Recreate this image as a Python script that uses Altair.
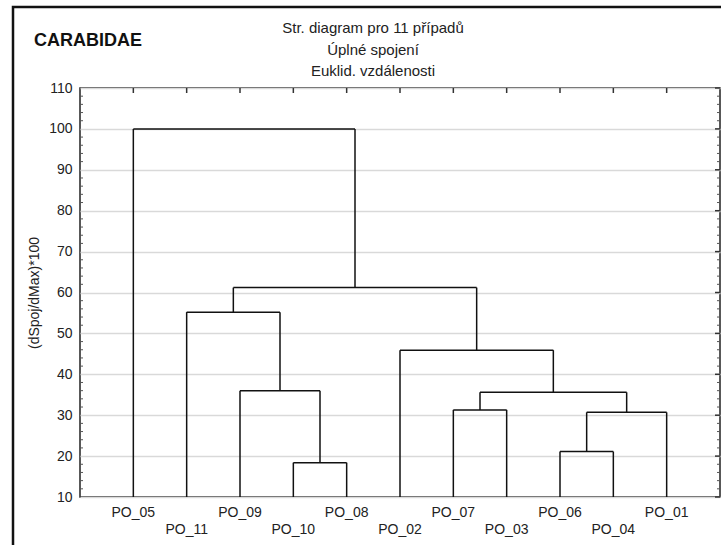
import altair as alt
import pandas as pd

# ---- data ----
leaves = ["PO_05", "PO_11", "PO_09", "PO_10", "PO_08", "PO_02",
          "PO_07", "PO_03", "PO_06", "PO_04", "PO_01"]
merge_left = ["PO_10", "PO_09", "PO_11", "PO_07", "PO_06", "m4", "m3", "PO_02", "m2", "PO_05"]
merge_right = ["PO_08", "m0", "m1", "PO_03", "PO_04", "PO_01", "m5", "m6", "m7", "m8"]
merge_height = [18.4, 36.0, 55.2, 31.3, 21.1, 30.7, 35.6, 45.9, 61.2, 100.0]
y_ticks = [10, 20, 30, 40, 50, 60, 70, 80, 90, 100, 110]
y_minor = [v for v in range(12, 110, 2) if v % 10 != 0]
title_lines = ["Str. diagram pro 11 případů", "Úplné spojení", "Euklid. vzdálenosti"]
panel_label = "CARABIDAE"
y_title = "(dSpoj/dMax)*100"

FONT = "Liberation Sans"
W, H = 640, 409

# ---- build dendrogram segments ----
pos = {name: i + 1 for i, name in enumerate(leaves)}
hgt = {name: 10.0 for name in leaves}
segs = []
for i, (l, r, h) in enumerate(zip(merge_left, merge_right, merge_height)):
    xl, xr = pos[l], pos[r]
    segs.append({"x": xl, "x2": xl, "y": hgt[l], "y2": h})
    segs.append({"x": xr, "x2": xr, "y": hgt[r], "y2": h})
    segs.append({"x": xl, "x2": xr, "y": h, "y2": h})
    pos[f"m{i}"] = (xl + xr) / 2
    hgt[f"m{i}"] = h
seg_df = pd.DataFrame(segs)

leaf_df = pd.DataFrame({"name": leaves, "x": list(range(1, len(leaves) + 1)),
                        "row": [i % 2 for i in range(len(leaves))]})

xscale = alt.Scale(domain=[0, 12], nice=False, zero=False)
yscale = alt.Scale(domain=[10, 110], nice=False, zero=False)
yaxis = alt.Axis(values=y_ticks, grid=True, gridColor="#d9d9d9", gridWidth=1.5,
                 tickSize=0, domain=False, labelPadding=8, labelFontSize=14,
                 labelColor="#222222", labelFont=FONT, title=y_title,
                 titleFontSize=14, titleFont=FONT, titleFontWeight="normal",
                 titleColor="#222222", titlePadding=7)

dendro = alt.Chart(seg_df).mark_rule(color="#111111", strokeWidth=1.5).encode(
    x=alt.X("x:Q", scale=xscale, axis=None),
    x2="x2:Q",
    y=alt.Y("y:Q", scale=yscale, axis=yaxis),
    y2="y2:Q",
)

minor_df = pd.DataFrame({"v": y_minor})
major_df = pd.DataFrame({"v": y_ticks})
tick_left = alt.Chart(minor_df).mark_rule(color="#555555", strokeWidth=1).encode(
    x=alt.value(0), x2=alt.value(3), y=alt.Y("v:Q", scale=yscale, axis=yaxis))
tick_right = alt.Chart(minor_df).mark_rule(color="#555555", strokeWidth=1).encode(
    x=alt.value(W - 3), x2=alt.value(W), y=alt.Y("v:Q", scale=yscale, axis=yaxis))
tick_right_major = alt.Chart(major_df).mark_rule(color="#333333", strokeWidth=1.5).encode(
    x=alt.value(W - 5), x2=alt.value(W), y=alt.Y("v:Q", scale=yscale, axis=yaxis))
tick_top = alt.Chart(leaf_df).mark_rule(color="#333333", strokeWidth=1.5).encode(
    x=alt.X("x:Q", scale=xscale, axis=None), y=alt.value(0), y2=alt.value(5))

lab_up = alt.Chart(leaf_df).transform_filter("datum.row == 0").mark_text(
    font=FONT, fontSize=14, color="#222222", baseline="middle").encode(
    x=alt.X("x:Q", scale=xscale, axis=None), y=alt.value(425), text="name:N")
lab_lo = alt.Chart(leaf_df).transform_filter("datum.row == 1").mark_text(
    font=FONT, fontSize=14, color="#222222", baseline="middle").encode(
    x=alt.X("x:Q", scale=xscale, axis=None), y=alt.value(442), text="name:N")

one = pd.DataFrame({"a": [0]})
frame = alt.Chart(one).mark_rect(fill=None, stroke="#111111", strokeWidth=2.5).encode(
    x=alt.value(-67), x2=alt.value(W + 60), y=alt.value(-81), y2=alt.value(H + 80))

title_df = pd.DataFrame({"t": title_lines, "i": [0, 1, 2]})
t_layers = []
for i, line in enumerate(title_lines):
    t_layers.append(alt.Chart(title_df).transform_filter(f"datum.i == {i}").mark_text(
        font=FONT, fontSize=15, color="#222222", baseline="middle", align="center").encode(
        x=alt.value(293), y=alt.value(-60 + 21.5 * i), text="t:N"))

panel = alt.Chart(pd.DataFrame({"t": [panel_label]})).mark_text(
    font=FONT, fontSize=18, fontWeight="bold", color="#111111",
    baseline="middle", align="left").encode(
    x=alt.value(-46), y=alt.value(-47), text="t:N")

chart = alt.layer(frame, dendro, tick_left, tick_right, tick_right_major, tick_top,
                  lab_up, lab_lo, panel, *t_layers).properties(
    width=W, height=H,
    padding={"left": 80, "top": 88, "right": 1, "bottom": 48},
    autosize=alt.AutoSizeParams(type="none"),
    background="white",
).configure_view(stroke="#222222", strokeWidth=1.5)

chart.save("out.html", embed_options={"renderer": "svg", "actions": False})
